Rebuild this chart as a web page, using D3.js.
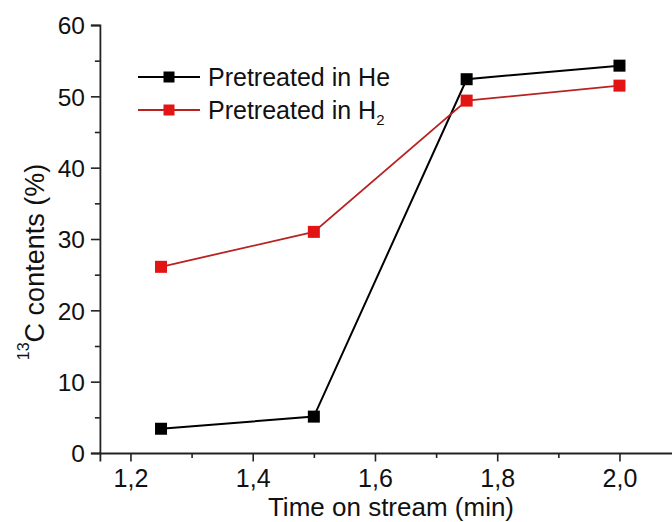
<!DOCTYPE html>
<html>
<head>
<meta charset="utf-8">
<script src="https://cdn.jsdelivr.net/npm/d3@7"></script>
<style>
  html, body { margin: 0; padding: 0; background: #fff; }
  svg { display: block; font-family: "Liberation Sans", Arial, sans-serif; }
</style>
</head>
<body>
<svg id="chart" width="672" height="522"></svg>
<script>
// Time on stream (min)
const times = [1.25, 1.5, 1.75, 2.0];
// 13C contents (%) for each pretreatment
const heValues = [3.4, 5.1, 52.4, 54.3];
const h2Values = [26.1, 31.0, 49.4, 51.5];
const seriesNames = ["Pretreated in He", "Pretreated in H"];
const seriesSubs = ["", "2"];
const seriesColors = ["#000000", "#e31414"];
const lineColors = ["#000000", "#b82222"];
const xTicks = [1.2, 1.4, 1.6, 1.8, 2.0];
const xMinorTicks = [1.3, 1.5, 1.7, 1.9];
const yTicks = [0, 10, 20, 30, 40, 50, 60];
const yMinorTicks = [5, 15, 25, 35, 45, 55];

const svg = d3.select("#chart");

const x = d3.scaleLinear().domain([1.15, 2.1]).range([99.9, 680.6]);
const y = d3.scaleLinear().domain([0, 60]).range([453, 25]);
const fmt = d => d3.format(".1f")(d).replace(".", ",");

// axes
const axisColor = "#222";
const xAxis = svg.append("g").attr("transform", `translate(0,${y(0)})`)
  .call(d3.axisBottom(x).tickValues(xTicks).tickSize(8.5).tickPadding(8).tickFormat(fmt));
xAxis.append("g").call(d3.axisBottom(x).tickValues(xMinorTicks).tickSize(5).tickFormat(""));
const yAxis = svg.append("g").attr("transform", `translate(${x(1.15)},0)`)
  .call(d3.axisLeft(y).tickValues(yTicks).tickSize(9).tickPadding(6).tickFormat(d3.format("d")));
yAxis.append("g").call(d3.axisLeft(y).tickValues(yMinorTicks).tickSize(5).tickFormat(""));

[xAxis, yAxis].forEach(g => {
  g.selectAll("path.domain").attr("stroke", axisColor).attr("stroke-width", 1.8);
  g.selectAll(".tick line").attr("stroke", axisColor).attr("stroke-width", 1.6);
  g.selectAll(".tick text").attr("fill", "#111");
  g.selectAll("g > g > .domain").remove();
});
xAxis.selectAll(".tick text").style("font-size", "25px").attr("dy", "0.71em");
yAxis.selectAll(".tick text").style("font-size", "24.5px").attr("dy", "0.36em");

// axis titles
svg.append("text")
  .attr("x", 391).attr("y", 515.5)
  .attr("text-anchor", "middle")
  .attr("fill", "#111")
  .style("font-size", "26px")
  .text("Time on stream (min)");

const yTitle = svg.append("text")
  .attr("transform", "translate(38,262) rotate(-90)")
  .attr("text-anchor", "middle")
  .attr("fill", "#111")
  .style("font-size", "27px");
yTitle.append("tspan").attr("dy", "-0.55em").style("font-size", "16px").text("13");
yTitle.append("tspan").attr("dy", "0.55em").text("C contents (%)");

// series
const series = [heValues, h2Values];
const line = d3.line().x((d, i) => x(times[i])).y(d => y(d));
const ms = 12;

series.forEach((vals, s) => {
  svg.append("path")
    .datum(vals)
    .attr("d", line)
    .attr("fill", "none")
    .attr("stroke", lineColors[s])
    .attr("stroke-width", s === 0 ? 2 : 1.8);
  svg.append("g").selectAll("rect")
    .data(vals)
    .join("rect")
    .attr("x", (d, i) => x(times[i]) - ms / 2)
    .attr("y", d => y(d) - ms / 2)
    .attr("width", ms).attr("height", ms)
    .attr("fill", seriesColors[s]);
});

// legend
const legRows = [77, 110];
seriesNames.forEach((name, s) => {
  const g = svg.append("g").attr("transform", `translate(0,${legRows[s]})`);
  g.append("line").attr("x1", 138).attr("x2", 200).attr("y1", 0).attr("y2", 0)
    .attr("stroke", lineColors[s]).attr("stroke-width", s === 0 ? 2 : 1.8);
  g.append("rect").attr("x", 169 - 5.5).attr("y", -5.5).attr("width", 11).attr("height", 11)
    .attr("fill", seriesColors[s]);
  const t = g.append("text").attr("x", 208).attr("y", 9)
    .attr("fill", "#111").style("font-size", "25px").text(name);
  if (seriesSubs[s]) {
    t.append("tspan").attr("dy", 6).style("font-size", "15px").text(seriesSubs[s]);
  }
});
</script>
</body>
</html>
